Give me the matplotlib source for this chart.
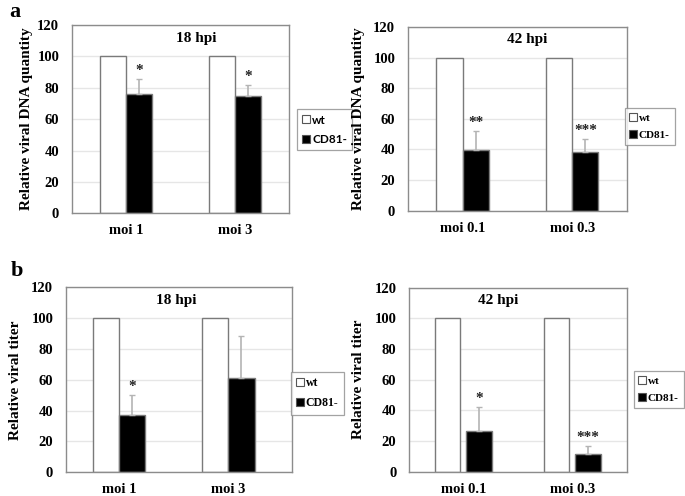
import matplotlib
matplotlib.use('Agg')
import matplotlib.pyplot as plt
from matplotlib.lines import Line2D
import numpy as np

# ---- data -------------------------------------------------------------
dna18_groups = ['moi 1', 'moi 3']
dna18_wt = [100, 100]
dna18_cd81 = [76, 74.5]
dna18_err = [9.7, 7.1]
dna18_stars = ['*', '*']

dna42_groups = ['moi 0.1', 'moi 0.3']
dna42_wt = [100, 100]
dna42_cd81 = [39.9, 38.3]
dna42_err = [12.4, 8.6]
dna42_stars = ['**', '***']

tit18_groups = ['moi 1', 'moi 3']
tit18_wt = [100, 100]
tit18_cd81 = [37, 61.4]
tit18_err = [13, 27.3]
tit18_stars = ['*', '']

tit42_groups = ['moi 0.1', 'moi 0.3']
tit42_wt = [100, 100]
tit42_cd81 = [26.7, 11.3]
tit42_err = [15.7, 5.7]
tit42_stars = ['*', '***']

yticks = [0, 20, 40, 60, 80, 100, 120]

# ---- style ------------------------------------------------------------
SERIF = 'Liberation Serif'
FRAME = '#8c8c8c'
GRID = '#e6e6e6'
BAR_EDGE = '#7a7a7a'
ERR = '#b4b4b4'

W, H = 685, 496
fig = plt.figure(figsize=(W / 100, H / 100), dpi=100)


def px_axes(l, t, r, b):
    return fig.add_axes([l / W, 1 - b / H, (r - l) / W, (b - t) / H])


def draw_panel(ax, groups, wt, cd81, err, stars, title, title_x, ylabel,
               ylabel_x, xlim, bw=0.24, gap=0.0):
    x = np.arange(len(groups))
    ax.set_xlim(*xlim)
    ax.set_ylim(0, 120)
    ax.set_yticks(yticks)
    ax.yaxis.grid(True, color=GRID, linewidth=1.0)
    ax.set_axisbelow(True)
    off = bw / 2 + gap / 2
    ax.bar(x - off, wt, bw, color='white', edgecolor=BAR_EDGE, linewidth=1.0,
           zorder=2)
    ax.bar(x + off, cd81, bw, color='black', edgecolor=BAR_EDGE, linewidth=1.0,
           zorder=2)
    ax.errorbar(x + off, cd81, yerr=[np.zeros(len(err)), err], fmt='none',
                ecolor=ERR, elinewidth=1.2, capsize=2.5, capthick=1.0,
                zorder=3)
    for xi, m, e, s in zip(x + off, cd81, err, stars):
        if s:
            ax.annotate(s, (xi, m + e), xytext=(0, 1.5),
                        textcoords='offset points', ha='center', va='bottom',
                        fontsize=11, fontweight='bold', family=SERIF,
                        color='#222222')
    ax.set_xticks(x)
    ax.set_xticklabels(groups)
    ax.tick_params(length=0, labelsize=10.5)
    ax.tick_params(axis='x', pad=8)
    ax.tick_params(axis='y', pad=9)
    for lab in ax.get_xticklabels() + ax.get_yticklabels():
        lab.set_family(SERIF)
        lab.set_fontweight('bold')
    for sp in ax.spines.values():
        sp.set_color(FRAME)
        sp.set_linewidth(1.0)
    ax.text(title_x, 0.93, title, transform=ax.transAxes, ha='center',
            va='center', fontsize=11, fontweight='bold', family=SERIF)
    ax.set_ylabel(ylabel, fontsize=11, fontweight='bold', family=SERIF)
    ax.yaxis.set_label_coords(ylabel_x, 0.5)


def draw_legend(ax, left, top, family, weight, size=8):
    handles = [
        Line2D([], [], linestyle='none', marker='s', markersize=6,
               markerfacecolor='white', markeredgecolor='#555555',
               markeredgewidth=0.8, label='wt'),
        Line2D([], [], linestyle='none', marker='s', markersize=6,
               markerfacecolor='black', markeredgecolor='#555555',
               markeredgewidth=0.8, label='CD81-'),
    ]
    leg = ax.legend(handles=handles, loc='upper left',
                    bbox_to_anchor=(left / W, 1 - top / H),
                    bbox_transform=fig.transFigure, frameon=True,
                    fancybox=False, edgecolor=FRAME, handlelength=0.6,
                    handletextpad=0.2, borderpad=0.45, labelspacing=0.7,
                    borderaxespad=0,
                    prop={'family': family, 'weight': weight, 'size': size})
    leg.get_frame().set_linewidth(0.9)


ax1 = px_axes(71.7, 25, 289.3, 213.3)
draw_panel(ax1, dna18_groups, dna18_wt, dna18_cd81, dna18_err, dna18_stars,
           '18 hpi', 0.57, 'Relative viral DNA quantity', -0.178, (-0.5, 1.5))
draw_legend(ax1, 297.3, 109.3, 'Lato', 'bold', 8.5)

ax2 = px_axes(407.7, 27, 627, 210.7)
draw_panel(ax2, dna42_groups, dna42_wt, dna42_cd81, dna42_err, dna42_stars,
           '42 hpi', 0.545, 'Relative viral DNA quantity', -0.195, (-0.5, 1.5))
draw_legend(ax2, 625, 108, SERIF, 'bold')

ax3 = px_axes(65.7, 287.3, 291.7, 472.3)
draw_panel(ax3, tit18_groups, tit18_wt, tit18_cd81, tit18_err, tit18_stars,
           '18 hpi', 0.49, 'Relative viral titer', -0.195, (-0.49, 1.58))
draw_legend(ax3, 291, 371.7, SERIF, 'bold', 8.5)

ax4 = px_axes(409, 287.7, 626.7, 471.7)
draw_panel(ax4, tit42_groups, tit42_wt, tit42_cd81, tit42_err, tit42_stars,
           '42 hpi', 0.41, 'Relative viral titer', -0.202, (-0.5, 1.5),
           bw=0.232, gap=0.055)
draw_legend(ax4, 634, 371, SERIF, 'bold')

fig.text(15 / W, 1 - 12 / H, 'a', ha='center', va='center', fontsize=16,
         fontweight='bold', family=SERIF)
fig.text(17 / W, 1 - 271 / H, 'b', ha='center', va='center', fontsize=16,
         fontweight='bold', family=SERIF)

fig.savefig('out.png', dpi=100, facecolor='white')
